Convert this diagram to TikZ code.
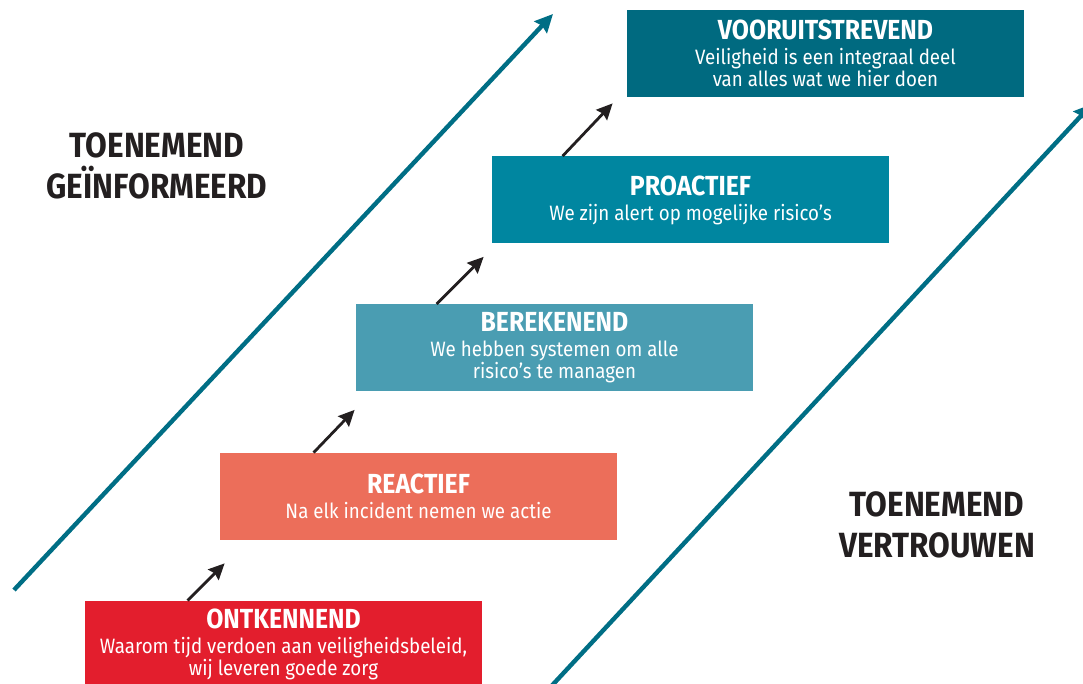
\documentclass[tikz,border=0pt]{standalone}
\usepackage{fontspec}
\setmainfont{Fira Sans}[FakeStretch=0.9]
\usetikzlibrary{arrows.meta, calc}

\definecolor{ontred}{HTML}{E31E2D}
\definecolor{reactsalmon}{HTML}{EC6E5A}
\definecolor{berekblue}{HTML}{4A9DB2}
\definecolor{problue}{HTML}{0086A0}
\definecolor{voorteal}{HTML}{006A80}
\definecolor{arrowteal}{HTML}{006E85}
\definecolor{darktext}{HTML}{231F20}

\newcommand{\leveltitle}[1]{{\fontsize{13.8}{13}\selectfont\bfseries #1}\\[1.5pt]}

\begin{document}
\begin{tikzpicture}[x=0.5pt, y=-0.5pt,
    level/.style={rectangle, minimum width=198.5pt, minimum height=43.5pt,
                  inner sep=0pt, align=center, text=white,
                  font=\fontsize{10.4}{11}\selectfont},
    sidetext/.style={align=center, text=darktext,
                     font=\fontsize{17.5}{20.5}\selectfont\bfseries},
    longarrow/.style={draw=arrowteal, line width=2.2pt,
                      -{Stealth[inset=1pt, length=9pt, width=8.5pt]}},
    steparrow/.style={draw=darktext, line width=1.4pt,
                      -{Stealth[inset=1pt, length=8pt, width=7.5pt]}}]
\clip (0,0) rectangle (1083,684);

% levels
\node[level, fill=ontred] (ont) at (283.5,644.5)
  {\leveltitle{ONTKENNEND}Waarom tijd verdoen aan veiligheidsbeleid,\\wij leveren goede zorg};
\node[level, fill=reactsalmon] (react) at (418.5,496.5)
  {\leveltitle{REACTIEF}Na elk incident nemen we actie};
\node[level, fill=berekblue] (berek) at (554.5,348)
  {\leveltitle{BEREKENEND}We hebben systemen om alle\\risico’s te managen};
\node[level, fill=problue] (pro) at (690.5,200)
  {\leveltitle{PROACTIEF}We zijn alert op mogelijke risico’s};
\node[level, fill=voorteal] (voor) at (825.5,53.5)
  {\leveltitle{VOORUITSTREVEND}Veiligheid is een integraal deel\\van alles wat we hier doen};

% side labels
\node[sidetext] (informed) at (157,166) {TOENEMEND\\GEÏNFORMEERD};
\node[sidetext] (trust) at (937,525) {TOENEMEND\\VERTROUWEN};

% long arrows
\coordinate (lstart) at (14,590);
\coordinate (lend) at (553,14);
\coordinate (rstart) at (545,693);
\coordinate (rend) at (1092,104);
\draw[longarrow] (lstart) -- (lend);
\draw[longarrow] (rstart) -- (rend);

% steps
\draw[steparrow] ($(ont.north west)+(103,0)$) -- ($(react.south west)+(5,23)$);
\draw[steparrow] ($(react.north west)+(94,0)$) -- ($(berek.south west)+(-1,18)$);
\draw[steparrow] ($(berek.north west)+(81,0)$) -- ($(pro.south west)+(-8,13)$);
\draw[steparrow] ($(pro.north west)+(71,0)$) -- ($(voor.south west)+(-14,6)$);

\end{tikzpicture}
\end{document}
